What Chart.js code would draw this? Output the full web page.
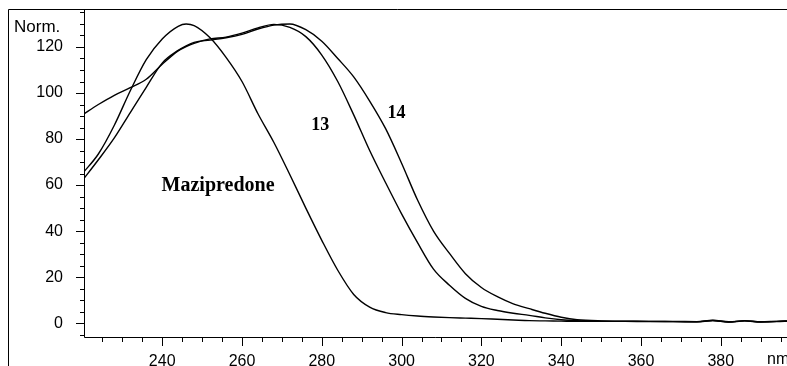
<!DOCTYPE html>
<html>
<head>
<meta charset="utf-8">
<script src="https://cdn.jsdelivr.net/npm/chart.js@4/dist/chart.umd.min.js"></script>
<style>
    html, body { margin: 0; padding: 0; background: #fff; overflow: hidden; }
    #wrap { width: 787px; height: 366px; position: relative; }
</style>
</head>
<body>
<div id="wrap"><canvas id="uvChart"></canvas></div>
<script>
// wavelength grid (nm) and normalised absorbance
const wavelengths = [220, 224, 228, 232, 236, 240, 244, 246, 248, 252, 256, 260, 264, 268, 272, 276, 280,
    284, 288, 292, 296, 300, 304, 308, 312, 316, 320, 324, 328, 332, 336, 340, 344,
    350, 356, 362, 368, 374, 378, 382, 386, 390, 394, 397];

const mazipredone = [65, 73.5, 86, 101, 114.5, 123.5, 129, 130, 129.3, 124, 115.5, 105, 91, 78.5, 64.5, 50, 36,
    23, 12.5, 7, 4.6, 3.7, 3.1, 2.7, 2.4, 2.2, 2, 1.7, 1.4, 1.1, 1, 0.9, 0.8,
    0.8, 0.8, 0.7, 0.7, 0.6, 1.1, 0.5, 1.0, 0.6, 0.8, 0.9];

const compound13 = [90.5, 95, 99, 102.3, 106, 112.5, 118.3, 120.2, 121.6, 123.5, 124.3, 126, 128.3, 129.8, 128.5, 124.5, 116.5,
    105, 90.5, 75, 61, 47.5, 35, 23.5, 16.5, 10.8, 7.3, 5.5, 4.3, 3.4, 2.3, 1.5, 1.1,
    0.9, 0.8, 0.8, 0.7, 0.6, 1.2, 0.5, 1.1, 0.6, 0.7, 0.9];

const compound14 = [62, 71, 80.5, 91.5, 102.5, 113, 118.5, 120.5, 122, 123, 124, 125.5, 127.8, 129.5, 130, 127.5, 122.5,
    115, 107, 96.5, 84.5, 69.5, 53.5, 40, 30.3, 21.5, 15.5, 11.5, 8.4, 6.3, 4.3, 2.6, 1.5,
    1.0, 0.9, 0.8, 0.8, 0.7, 1.3, 0.6, 1.0, 0.5, 0.8, 1.0];

const xTicks = [240, 260, 280, 300, 320, 340, 360, 380];
const yTicks = [0, 20, 40, 60, 80, 100, 120];

// curve labels placed in data coordinates
const curveLabels = [
    { text: 'Mazipredone', x: 254, y: 59.5 },
    { text: '13', x: 279.6, y: 86 },
    { text: '14', x: 298.7, y: 91 }
];

const toPoints = (ys) => wavelengths.map((w, i) => ({ x: w, y: ys[i] }));

const lineStyle = {
    borderColor: '#000',
    borderWidth: 1.4,
    pointRadius: 0,
    fill: false,
    cubicInterpolationMode: 'monotone'
};

// axes, minor ticks, frame and texts
const decorPlugin = {
    id: 'decor',
    afterDraw(chart) {
        const c = chart.ctx;
        const xs = chart.scales.x;
        const ys = chart.scales.y;
        const area = chart.chartArea;
        c.save();
        c.strokeStyle = '#000';
        c.lineWidth = 1;

        // outer frame (left + top)
        c.beginPath();
        c.moveTo(8.5, 366);
        c.lineTo(8.5, 9.5);
        c.lineTo(787, 9.5);
        c.stroke();

        // axis lines
        c.beginPath();
        c.moveTo(area.left + 0.5, area.top);
        c.lineTo(area.left + 0.5, area.bottom + 0.5);
        c.lineTo(area.right, area.bottom + 0.5);
        c.stroke();

        // y ticks, every 5, long at multiples of 20
        c.beginPath();
        for (let v = -5; v <= 135; v += 5) {
            const py = Math.round(ys.getPixelForValue(v)) + 0.5;
            const len = v % 20 === 0 ? 8 : 4;
            c.moveTo(area.left, py);
            c.lineTo(area.left - len, py);
        }
        // x ticks, every 5 nm
        for (let v = 225; v <= 395; v += 5) {
            const px = Math.round(xs.getPixelForValue(v)) + 0.5;
            const len = v % 20 === 0 ? 9 : 5;
            c.moveTo(px, area.bottom);
            c.lineTo(px, area.bottom + len);
        }
        c.stroke();

        c.fillStyle = '#000';
        c.font = '17px "Liberation Sans", Arial, sans-serif';
        c.textBaseline = 'middle';
        c.textAlign = 'left';
        c.fillText('Norm.', 14, 27);
        c.font = '16px "Liberation Sans", Arial, sans-serif';
        c.fillText('nm', 767, 360);

        c.textAlign = 'center';
        curveLabels.forEach(l => {
            const size = l.text.length > 2 ? 20 : 18;
            c.font = 'bold ' + size + 'px "Liberation Serif", "Times New Roman", serif';
            c.fillText(l.text, xs.getPixelForValue(l.x), ys.getPixelForValue(l.y));
        });
        c.restore();
    }
};

const ctx = document.getElementById('uvChart').getContext('2d');
const uvChart = new Chart(ctx, {
    type: 'line',
    data: {
        datasets: [
            Object.assign({ label: 'Mazipredone', data: toPoints(mazipredone) }, lineStyle),
            Object.assign({ label: '13', data: toPoints(compound13) }, lineStyle),
            Object.assign({ label: '14', data: toPoints(compound14) }, lineStyle)
        ]
    },
    options: {
        responsive: true,
        maintainAspectRatio: false,
        animation: false,
        layout: { padding: { top: 9, left: 0, right: 0, bottom: 0 } },
        plugins: {
            legend: { display: false },
            tooltip: { enabled: false }
        },
        scales: {
            x: {
                type: 'linear',
                min: 220.4,
                max: 396.6,
                afterFit: (s) => { s.height = 29; s.paddingLeft = 0; s.paddingRight = 0; },
                afterBuildTicks: (s) => { s.ticks = xTicks.map(v => ({ value: v })); },
                grid: { display: false, drawTicks: false },
                border: { display: false },
                ticks: {
                    color: '#000',
                    padding: 15,
                    maxRotation: 0,
                    font: { family: '"Liberation Sans", Arial, sans-serif', size: 16 }
                }
            },
            y: {
                type: 'linear',
                min: -6,
                max: 136.5,
                afterFit: (s) => { s.width = 84; s.paddingTop = 0; s.paddingBottom = 0; },
                afterBuildTicks: (s) => { s.ticks = yTicks.map(v => ({ value: v })); },
                grid: { display: false, drawTicks: false },
                border: { display: false },
                ticks: {
                    color: '#000',
                    padding: 21,
                    font: { family: '"Liberation Sans", Arial, sans-serif', size: 16 }
                }
            }
        }
    },
    plugins: [decorPlugin]
});
</script>
</body>
</html>
